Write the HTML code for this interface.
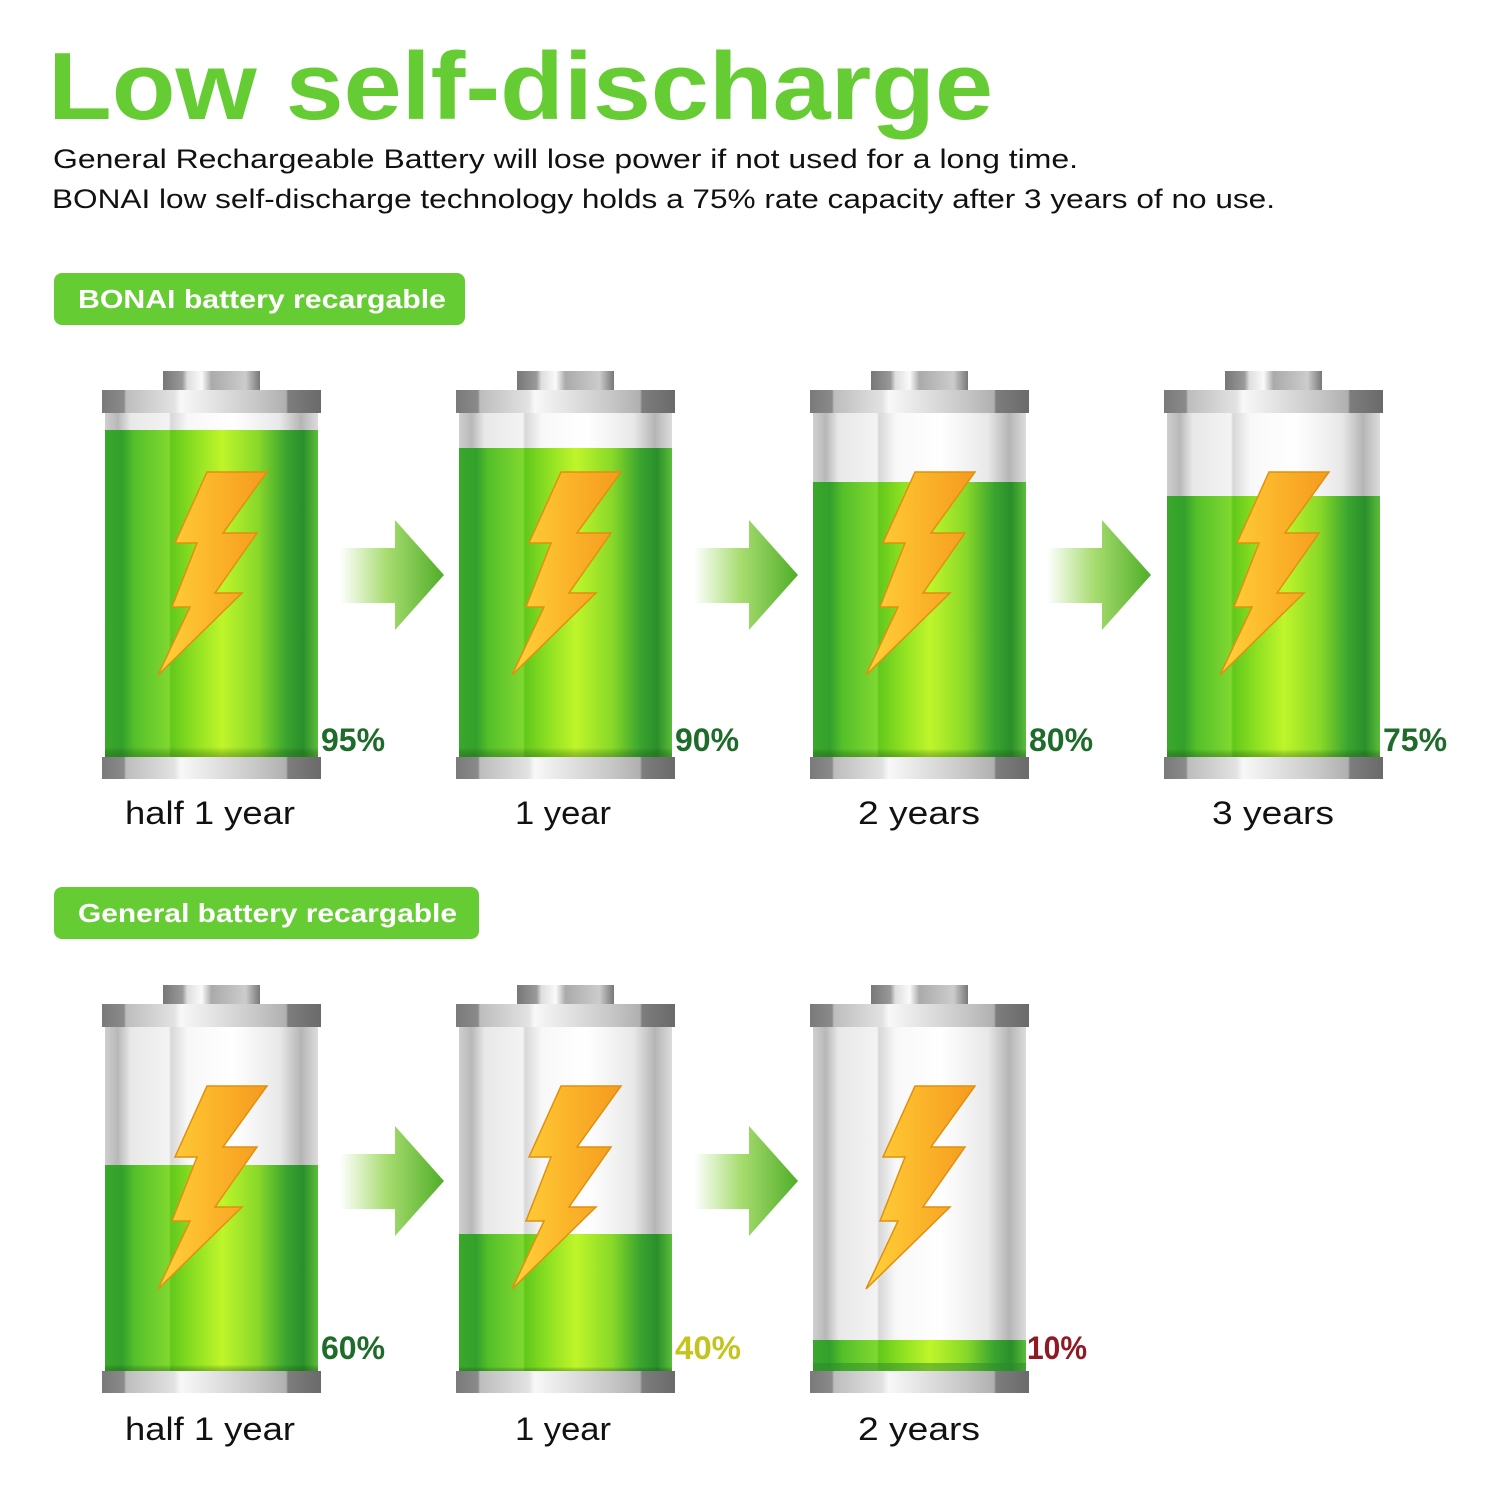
<!DOCTYPE html>
<html><head><meta charset="utf-8"><style>html,body{margin:0;padding:0;background:#fff}svg{display:block}</style></head>
<body>
<svg width="1500" height="1500" viewBox="0 0 1500 1500" xmlns="http://www.w3.org/2000/svg">
<defs>
<linearGradient id="metal" x1="0" x2="1" y1="0" y2="0">
<stop offset="0" stop-color="#7a7a7a"/><stop offset="0.1" stop-color="#8a8a8a"/><stop offset="0.11" stop-color="#bdbdbd"/><stop offset="0.33" stop-color="#e2e2e2"/><stop offset="0.36" stop-color="#f8f8f8"/><stop offset="0.7" stop-color="#c8c8c8"/><stop offset="0.84" stop-color="#b0b0b0"/><stop offset="0.85" stop-color="#7d7d7d"/><stop offset="1" stop-color="#6a6a6a"/>
</linearGradient>
<linearGradient id="nub" x1="0" x2="1"><stop offset="0" stop-color="#777"/><stop offset="0.2" stop-color="#999"/><stop offset="0.25" stop-color="#ddd"/><stop offset="0.4" stop-color="#fafafa"/><stop offset="0.5" stop-color="#aaa"/><stop offset="0.85" stop-color="#ccc"/><stop offset="1" stop-color="#777"/></linearGradient>
<linearGradient id="glass" x1="0" x2="1">
<stop offset="0" stop-color="#cfcfcf"/><stop offset="0.06" stop-color="#b8b8b8"/><stop offset="0.12" stop-color="#e8e8e8"/><stop offset="0.3" stop-color="#f3f3f3"/><stop offset="0.31" stop-color="#d8d8d8"/><stop offset="0.39" stop-color="#f8f8f8"/><stop offset="0.6" stop-color="#ffffff"/><stop offset="0.82" stop-color="#e8e8e8"/><stop offset="0.92" stop-color="#b5b5b5"/><stop offset="1" stop-color="#dcdcdc"/>
</linearGradient>
<linearGradient id="green" x1="0" x2="1">
<stop offset="0" stop-color="#3aa82a"/><stop offset="0.08" stop-color="#33a02c"/><stop offset="0.14" stop-color="#55c02a"/><stop offset="0.3" stop-color="#7fd830"/><stop offset="0.31" stop-color="#62c81c"/><stop offset="0.42" stop-color="#8ee022"/><stop offset="0.55" stop-color="#bff52a"/><stop offset="0.72" stop-color="#88d829"/><stop offset="0.85" stop-color="#3aa530"/><stop offset="0.93" stop-color="#2a8f2a"/><stop offset="1" stop-color="#5cbd3a"/>
</linearGradient>
<linearGradient id="greenV" x1="0" x2="0" y1="0" y2="1"><stop offset="0" stop-color="#000" stop-opacity="0"/><stop offset="0.97" stop-color="#000" stop-opacity="0"/><stop offset="1" stop-color="#145014" stop-opacity="0.35"/></linearGradient>
<linearGradient id="bolt" x1="0" x2="1" y1="0" y2="0"><stop offset="0" stop-color="#ffd23a"/><stop offset="0.5" stop-color="#fbb52a"/><stop offset="1" stop-color="#f59a1e"/></linearGradient>
<linearGradient id="arrow" x1="0" x2="1"><stop offset="0" stop-color="#ffffff"/><stop offset="0.45" stop-color="#a8dc70"/><stop offset="1" stop-color="#4fae28"/></linearGradient>
<g id="bshell">
<rect x="61" y="0" width="97" height="19" fill="url(#nub)"/>
<rect x="0" y="19" width="219" height="23" fill="url(#metal)"/>
<rect x="3" y="42" width="213" height="344" fill="url(#glass)"/>
<rect x="0" y="386" width="219" height="22" fill="url(#metal)"/>
</g>
<polygon id="bbolt" points="105,101 165,101 121,162 155,162 113,222 140,222 56,304 88,236 70,236 95,172 73,172" fill="url(#bolt)" stroke="#e0900e" stroke-width="1.5"/>
<polygon id="barrow" points="0,28 55,28 55,0 104,55 55,110 55,83 0,83" fill="url(#arrow)"/>
</defs>

<text x="48" y="119" font-family="Liberation Sans, sans-serif" font-weight="bold" font-size="96" fill="#66cc33" textLength="945" lengthAdjust="spacingAndGlyphs">Low self-discharge</text>
<text x="53" y="168" font-family="Liberation Sans, sans-serif" font-size="27" fill="#111" textLength="1025" lengthAdjust="spacingAndGlyphs">General Rechargeable Battery will lose power if not used for a long time.</text>
<text x="52" y="208" font-family="Liberation Sans, sans-serif" font-size="27" fill="#111" textLength="1223" lengthAdjust="spacingAndGlyphs">BONAI low self-discharge technology holds a 75% rate capacity after 3 years of no use.</text>

<rect x="54" y="273" width="411" height="52" rx="8" fill="#66cc33"/>
<text x="78" y="308" font-family="Liberation Sans, sans-serif" font-weight="bold" font-size="26" fill="#fff" textLength="368" lengthAdjust="spacingAndGlyphs">BONAI battery  recargable</text>
<rect x="54" y="887" width="425" height="52" rx="8" fill="#66cc33"/>
<text x="78" y="922" font-family="Liberation Sans, sans-serif" font-weight="bold" font-size="26" fill="#fff" textLength="379" lengthAdjust="spacingAndGlyphs">General battery recargable</text>

<!-- Row 1 -->
<g transform="translate(102,371)"><use href="#bshell"/><rect x="3" y="59" width="213" height="327" fill="url(#green)"/><rect x="3" y="59" width="213" height="327" fill="url(#greenV)"/><use href="#bbolt"/></g>
<g transform="translate(456,371)"><use href="#bshell"/><rect x="3" y="77" width="213" height="309" fill="url(#green)"/><rect x="3" y="77" width="213" height="309" fill="url(#greenV)"/><use href="#bbolt"/></g>
<g transform="translate(810,371)"><use href="#bshell"/><rect x="3" y="111" width="213" height="275" fill="url(#green)"/><rect x="3" y="111" width="213" height="275" fill="url(#greenV)"/><use href="#bbolt"/></g>
<g transform="translate(1164,371)"><use href="#bshell"/><rect x="3" y="125" width="213" height="261" fill="url(#green)"/><rect x="3" y="125" width="213" height="261" fill="url(#greenV)"/><use href="#bbolt"/></g>
<use href="#barrow" x="340" y="520"/><use href="#barrow" x="694" y="520"/><use href="#barrow" x="1047" y="520"/>

<g font-family="Liberation Sans, sans-serif" font-weight="bold" font-size="32">
<text x="321" y="751" fill="#1e6b2a" textLength="64" lengthAdjust="spacingAndGlyphs">95%</text>
<text x="675" y="751" fill="#1e6b2a" textLength="64" lengthAdjust="spacingAndGlyphs">90%</text>
<text x="1029" y="751" fill="#1e6b2a" textLength="64" lengthAdjust="spacingAndGlyphs">80%</text>
<text x="1383" y="751" fill="#1e6b2a" textLength="64" lengthAdjust="spacingAndGlyphs">75%</text>
<text x="321" y="1359" fill="#1e6b2a" textLength="64" lengthAdjust="spacingAndGlyphs">60%</text>
<text x="675" y="1359" fill="#c4c41e" textLength="66" lengthAdjust="spacingAndGlyphs">40%</text>
<text x="1027" y="1359" fill="#8e1a24" textLength="60" lengthAdjust="spacingAndGlyphs">10%</text>
</g>

<g font-family="Liberation Sans, sans-serif" font-size="32" fill="#111">
<text x="125" y="824" textLength="170" lengthAdjust="spacingAndGlyphs">half 1 year</text>
<text x="515" y="824" textLength="96" lengthAdjust="spacingAndGlyphs">1 year</text>
<text x="858" y="824" textLength="122" lengthAdjust="spacingAndGlyphs">2 years</text>
<text x="1212" y="824" textLength="122" lengthAdjust="spacingAndGlyphs">3 years</text>
<text x="125" y="1440" textLength="170" lengthAdjust="spacingAndGlyphs">half 1 year</text>
<text x="515" y="1440" textLength="96" lengthAdjust="spacingAndGlyphs">1 year</text>
<text x="858" y="1440" textLength="122" lengthAdjust="spacingAndGlyphs">2 years</text>
</g>

<!-- Row 2 -->
<g transform="translate(102,985)"><use href="#bshell"/><rect x="3" y="180" width="213" height="206" fill="url(#green)"/><rect x="3" y="180" width="213" height="206" fill="url(#greenV)"/><use href="#bbolt"/></g>
<g transform="translate(456,985)"><use href="#bshell"/><rect x="3" y="249" width="213" height="137" fill="url(#green)"/><rect x="3" y="249" width="213" height="137" fill="url(#greenV)"/><use href="#bbolt"/></g>
<g transform="translate(810,985)"><use href="#bshell"/><rect x="3" y="355" width="213" height="31" fill="url(#green)"/><rect x="3" y="378" width="213" height="8" fill="#2a8a2a" opacity="0.5"/><use href="#bbolt"/></g>
<use href="#barrow" x="340" y="1126"/><use href="#barrow" x="694" y="1126"/>
</svg>
</body></html>
